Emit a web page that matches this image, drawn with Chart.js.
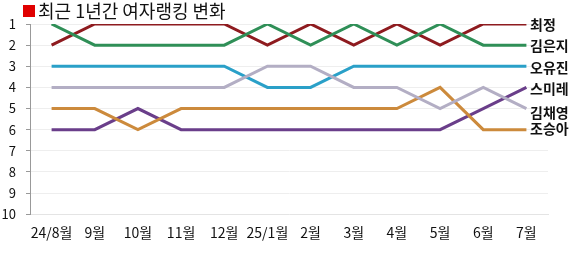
<!DOCTYPE html>
<html>
<head>
<meta charset="utf-8">
<script src="https://cdn.jsdelivr.net/npm/chart.js@4/dist/chart.umd.min.js"></script>
<style>
  html, body { margin: 0; padding: 0; background: #fff; }
  #wrap { width: 576px; height: 255px; position: relative; }
</style>
</head>
<body>
<div id="wrap"><canvas id="rankChart"></canvas></div>
<script>
const months = ['24/8월', '9월', '10월', '11월', '12월', '25/1월', '2월', '3월', '4월', '5월', '6월', '7월'];

const names = ['최정', '김은지', '오유진', '스미레', '김채영', '조승아'];
const choiJeong  = [2, 1, 1, 1, 1, 2, 1, 2, 1, 2, 1, 1];
const kimEunji   = [1, 2, 2, 2, 2, 1, 2, 1, 2, 1, 2, 2];
const ohYujin    = [3, 3, 3, 3, 3, 4, 4, 3, 3, 3, 3, 3];
const sumire     = [6, 6, 5, 6, 6, 6, 6, 6, 6, 6, 5, 4];
const kimChaeyoung = [4, 4, 4, 4, 4, 3, 3, 4, 4, 5, 4, 5];
const choSeunga  = [5, 5, 6, 5, 5, 5, 5, 5, 5, 4, 6, 6];

const colors = ['#8e1b1f', '#2f8f57', '#2aa0c8', '#b3aec4', '#cc8a3c', '#6a3e8a'];
// order of drawing: later ones on top
const series = [
    { name: names[4], data: kimChaeyoung, color: colors[3] },
    { name: names[5], data: choSeunga, color: colors[4] },
    { name: names[3], data: sumire, color: colors[5] },
    { name: names[2], data: ohYujin, color: colors[2] },
    { name: names[1], data: kimEunji, color: colors[1] },
    { name: names[0], data: choiJeong, color: colors[0] }
];

const FONT = '"Noto Sans CJK KR", "Noto Sans", sans-serif';

const titlePlugin = {
    id: 'titleBox',
    afterDraw(chart) {
        const ctx = chart.ctx;
        ctx.save();
        ctx.fillStyle = '#e00000';
        ctx.fillRect(23, 5, 12, 12);
        ctx.fillStyle = '#111';
        ctx.font = '18px ' + FONT;
        ctx.textBaseline = 'middle';
        ctx.textAlign = 'left';
        ctx.fillText('최근 1년간 여자랭킹 변화', 38, 11);
        ctx.restore();
    }
};

const endLabels = {
    id: 'endLabels',
    afterDatasetsDraw(chart) {
        const ctx = chart.ctx;
        const y = chart.scales.y;
        const nudge = { '김채영': 0.15, '조승아': -0.1 };
        ctx.save();
        ctx.font = 'bold 14px ' + FONT;
        ctx.fillStyle = '#111';
        ctx.textBaseline = 'middle';
        ctx.textAlign = 'left';
        chart.data.datasets.forEach(ds => {
            const last = ds.data[ds.data.length - 1];
            const pos = y.getPixelForValue(last + (nudge[ds.label] || 0));
            ctx.fillText(ds.label, chart.chartArea.right - 18, pos + 1);
        });
        ctx.restore();
    }
};

new Chart(document.getElementById('rankChart'), {
    type: 'line',
    data: {
        labels: months,
        datasets: series.map(s => ({
            label: s.name,
            data: s.data,
            borderColor: s.color,
            backgroundColor: s.color,
            borderWidth: 3,
            pointRadius: 0,
            tension: 0
        }))
    },
    options: {
        responsive: true,
        maintainAspectRatio: false,
        animation: false,
        layout: { padding: { top: 24, right: 28, left: 0, bottom: 4 } },
        plugins: {
            legend: { display: false },
            tooltip: { enabled: false }
        },
        scales: {
            x: {
                offset: true,
                grid: { display: false, drawTicks: false },
                border: { color: '#e4e4e4' },
                ticks: {
                    color: '#111',
                    font: { family: FONT, size: 14 },
                    padding: 10,
                    maxRotation: 0,
                    autoSkip: false
                }
            },
            y: {
                reverse: true,
                min: 1,
                max: 10,
                afterFit: scale => { scale.width = 30; },
                grid: { color: '#eeeeee', tickColor: '#999', tickLength: 4 },
                border: { color: '#999' },
                ticks: {
                    stepSize: 1,
                    color: '#111',
                    font: { family: FONT, size: 13 },
                    padding: 10
                }
            }
        }
    },
    plugins: [titlePlugin, endLabels]
});
</script>
</body>
</html>
